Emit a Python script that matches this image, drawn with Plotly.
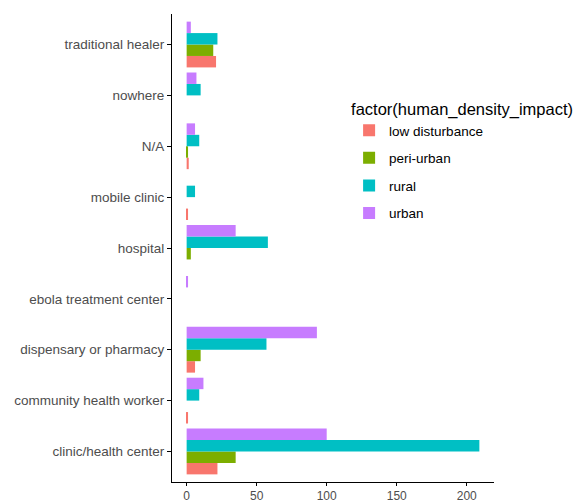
import plotly.graph_objects as go

categories = ["clinic/health center", "community health worker", "dispensary or pharmacy",
              "ebola treatment center", "hospital", "mobile clinic", "N/A", "nowhere",
              "traditional healer"]
series_names = ["low disturbance", "peri-urban", "rural", "urban"]
low_disturbance = [22, 1, 6, 0, 0, 1, 1.5, 0, 21]
peri_urban = [35, 0, 10, 0, 3, 0, 1, 0, 19]
rural = [209, 9, 57, 0, 58, 6, 9, 10, 22]
urban = [100, 12, 93, 1, 35, 0, 6, 7, 3]
colors = ["#F8766D", "#7CAE00", "#00BFC4", "#C77CFF"]
x_ticks = [0, 50, 100, 150, 200]

fig = go.Figure()
for i, (name, vals) in enumerate(zip(series_names, [low_disturbance, peri_urban, rural, urban])):
    fig.add_trace(go.Bar(y=categories, x=vals, name=name, orientation="h",
                         marker=dict(color=colors[i], line=dict(width=0)),
                         legendgroup=name))

fig.update_layout(
    width=583, height=504,
    margin=dict(l=164, r=97, t=6, b=30, autoexpand=False),
    paper_bgcolor="white", plot_bgcolor="white",
    barmode="group", bargap=0.1, bargroupgap=0,
    font=dict(family="Liberation Sans, Arial, sans-serif", size=12, color="#4D4D4D"),
    legend=dict(
        title=dict(text="factor(human_density_impact)", font=dict(size=16.5, color="black")),
        x=0.55, y=0.83, xanchor="left", yanchor="top",
        font=dict(size=13.5, color="black"),
        tracegroupgap=7, bgcolor="rgba(0,0,0,0)",
    ),
    xaxis=dict(range=[-10.45, 219.45], tickvals=x_ticks, showgrid=False, zeroline=False,
               showline=True, linecolor="black", linewidth=1, ticks="outside",
               ticklen=3, tickcolor="black", tickfont=dict(size=12, color="#4D4D4D")),
    yaxis=dict(categoryorder="array", categoryarray=categories, range=[-0.6, 8.6],
               showgrid=False, zeroline=False, showline=True, linecolor="black",
               linewidth=1, ticks="outside", ticklen=4, tickcolor="black",
               tickfont=dict(size=13.5, color="#4D4D4D")),
)
fig.write_html("out.html")
